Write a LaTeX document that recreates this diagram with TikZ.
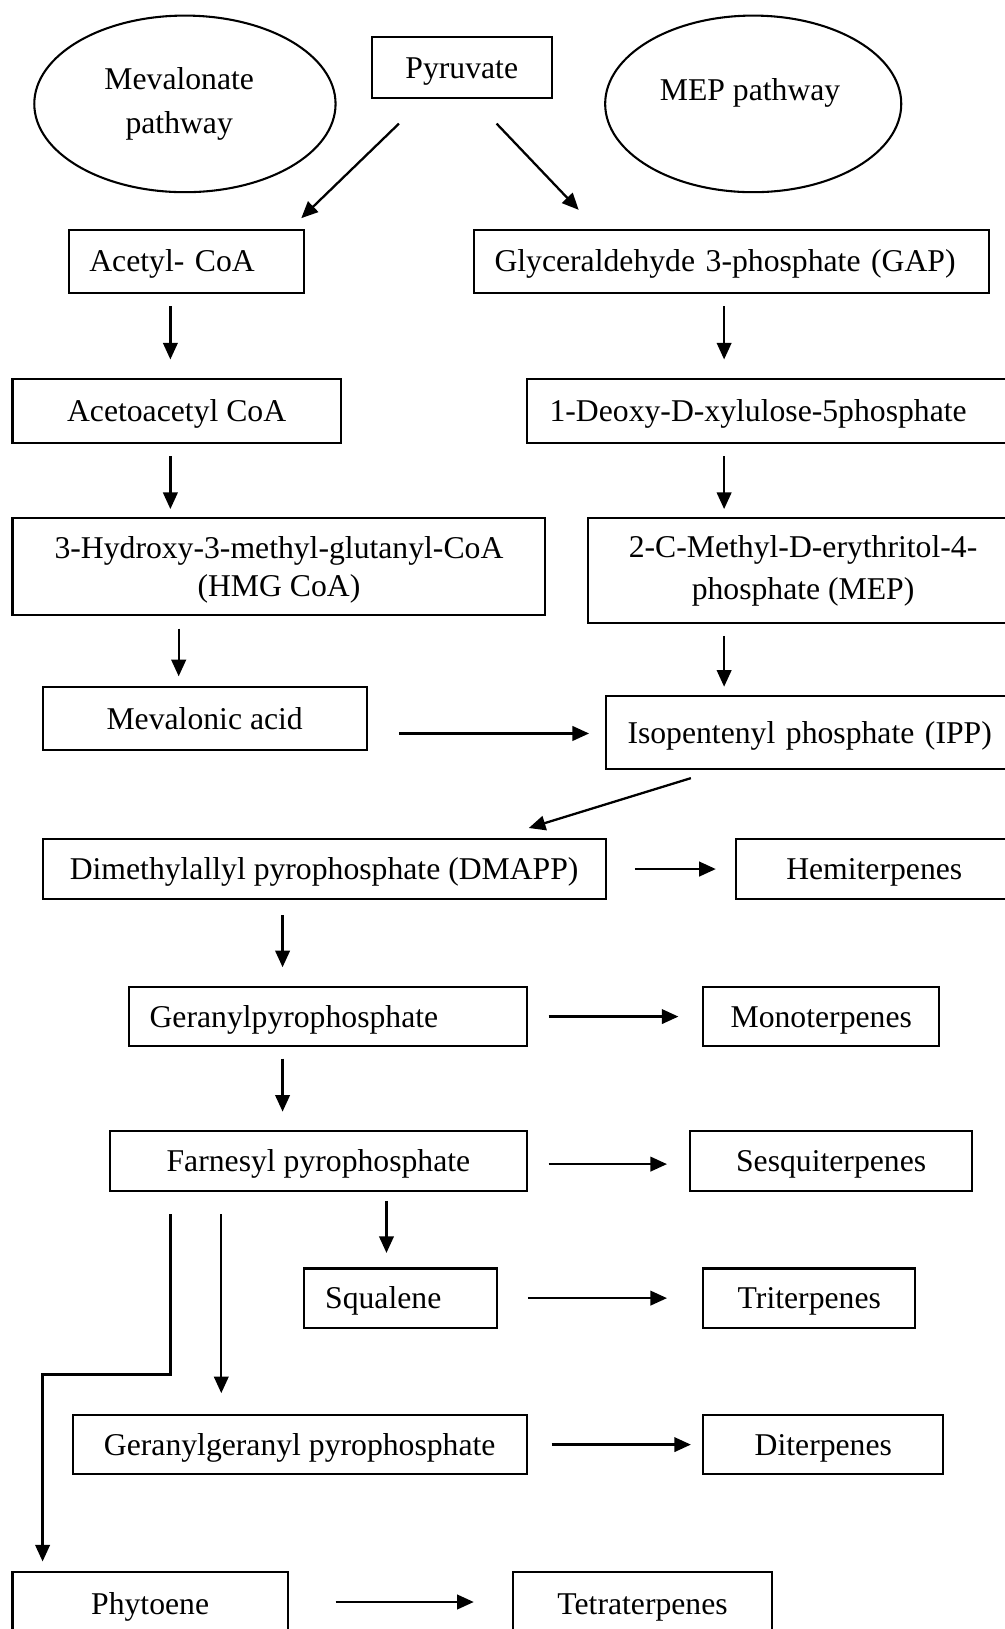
\documentclass[tikz,border=0pt]{standalone}
\usepackage{fontspec}
\setmainfont{Liberation Serif}
\usetikzlibrary{arrows.meta,shapes.geometric,calc}
\newcommand\cbox[6]{\node[bx, sl, minimum width={#4-#2}, minimum height={#5-#3}] (#1) at ({(#2+#4)/2},{(#3+#5)/2}) {#6};}
\newcommand\lbox[7]{\node[bx, sl, minimum height={#5-#3}, text width={#4-#2-2*#7}, inner xsep=#7, align=left] (#1) at ({(#2+#4)/2},{(#3+#5)/2}) {#6};}
\begin{document}
\begin{tikzpicture}[x=1pt,y=-1pt,
  every node/.style={font=\fontsize{30.5}{36}\selectfont},
  bx/.style={draw, line width=2pt, rectangle, inner sep=0pt},
  sl/.style={text height=27pt, text depth=6.6pt},
  el/.style={draw, line width=2pt, ellipse, inner sep=0pt},
  arr/.style={-{Triangle[length=16pt,width=14pt]}, line width=2.2pt},
  ln/.style={line width=2.2pt}]
\useasboundingbox (0,0) rectangle (967,1568);
% ellipses and top
\node[el, minimum width=290, minimum height=170, align=center, font=\fontsize{30.5}{42}\selectfont] (mvp) at (178,100) {Mevalonate\hspace*{11pt}\\pathway\hspace*{11pt}};
\node[el, minimum width=285, minimum height=170] (mepp) at (725,100) {\raisebox{3pt}[0pt][0pt]{MEP pathway}\hspace*{6pt}};
\cbox{pyr}{358}{36}{531}{94}{Pyruvate}
% left column
\lbox{acetyl}{66}{221}{293}{282}{Acetyl- CoA}{20}
\cbox{acac}{12}{365}{328}{426}{Acetoacetyl CoA}
\node[bx, minimum width=513, minimum height=93, align=center] (hmg) at (268.5,545.5) {\rule{0pt}{27pt}3-Hydroxy-3-methyl-glutanyl-CoA\\(HMG CoA)};
\cbox{mva}{41}{661}{353}{722}{Mevalonic acid}
% right column
\lbox{gap}{456}{221}{952}{282}{Glyceraldehyde 3-phosphate (GAP)}{20}
\lbox{dxp}{507}{365}{980}{426}{1-Deoxy-D-xylulose-5phosphate}{22}
\node[bx, minimum width=414, minimum height=101, align=center, font=\fontsize{30.5}{41}\selectfont] (mep) at (773,549.5) {2-C-Methyl-D-erythritol-4-\\phosphate (MEP)};
\lbox{ipp}{583}{670}{990}{740}{Isopentenyl phosphate (IPP)}{21}
% lower
\cbox{dmapp}{41}{808}{583}{865}{Dimethylallyl pyrophosphate (DMAPP)}
\cbox{hemi}{708}{808}{975}{865}{Hemiterpenes}
\lbox{gpp}{124}{950}{507}{1007}{Geranylpyrophosphate}{20}
\cbox{mono}{677}{950}{904}{1007}{Monoterpenes}
\cbox{fpp}{106}{1089}{507}{1146}{Farnesyl pyrophosphate}
\cbox{sesq}{664}{1089}{936}{1146}{Sesquiterpenes}
\lbox{sq}{293}{1221}{478}{1278}{Squalene}{20}
\cbox{tri}{677}{1221}{881}{1278}{Triterpenes}
\cbox{ggpp}{70}{1362}{507}{1419}{Geranylgeranyl pyrophosphate}
\cbox{di}{677}{1362}{908}{1419}{Diterpenes}
\cbox{phy}{12}{1513}{277}{1574}{Phytoene}
\cbox{tet}{494}{1513}{743}{1574}{Tetraterpenes}
% arrows
\draw[arr] ($(pyr.south)+(-60.5,24)$) -- ($(acetyl.north)+(110.5,-10)$);
\draw[arr] ($(pyr.south)+(33.5,24)$) -- ($(gap.north)+(-147,-18)$);
\draw[arr] ($(acetyl.south)+(-15.5,12)$) -- ++(0,51);
\draw[arr] ($(gap.south)+(-7,12)$) -- ++(0,51);
\draw[arr] ($(acac.south)+(-6,12)$) -- ++(0,51);
\draw[arr] ($(dxp.south)+(-46.5,12)$) -- ++(0,51);
\draw[arr] ($(hmg.south)+(-96.5,12)$) -- ++(0,46);
\draw[arr] ($(mep.south)+(-76,11)$) -- ++(0,49);
\draw[arr] ($(mva.east)+(30,14.5)$) -- ++(183,0);
\draw[arr] ($(ipp.south)+(-121.5,8)$) -- ($(dmapp.north)+(197,-10)$);
\draw[arr] ($(dmapp.east)+(27,0)$) -- ++(78,0);
\draw[arr] ($(dmapp.south)+(-40,15)$) -- ++(0,50);
\draw[arr] ($(gpp.east)+(20,0)$) -- ++(125,0);
\draw[arr] ($(gpp.south)+(-43.5,11)$) -- ++(0,51);
\draw[arr] ($(fpp.east)+(20,3)$) -- ++(114,0);
\draw[arr] ($(fpp.south)+(65.5,9)$) -- ++(0,50);
\draw[arr] ($(sq.east)+(29,0)$) -- ++(134,0);
\draw[arr] ($(fpp.south)+(-93.5,22)$) -- ++(0,172);
\draw[arr] ($(fpp.south)+(-142.5,22)$) -- ++(0,154) -- ++(-123,0) -- ++(0,180);
\draw[arr] ($(ggpp.east)+(23,0)$) -- ++(134,0);
\draw[arr] ($(phy.east)+(45,-1.5)$) -- ++(133,0);
\end{tikzpicture}
\end{document}
